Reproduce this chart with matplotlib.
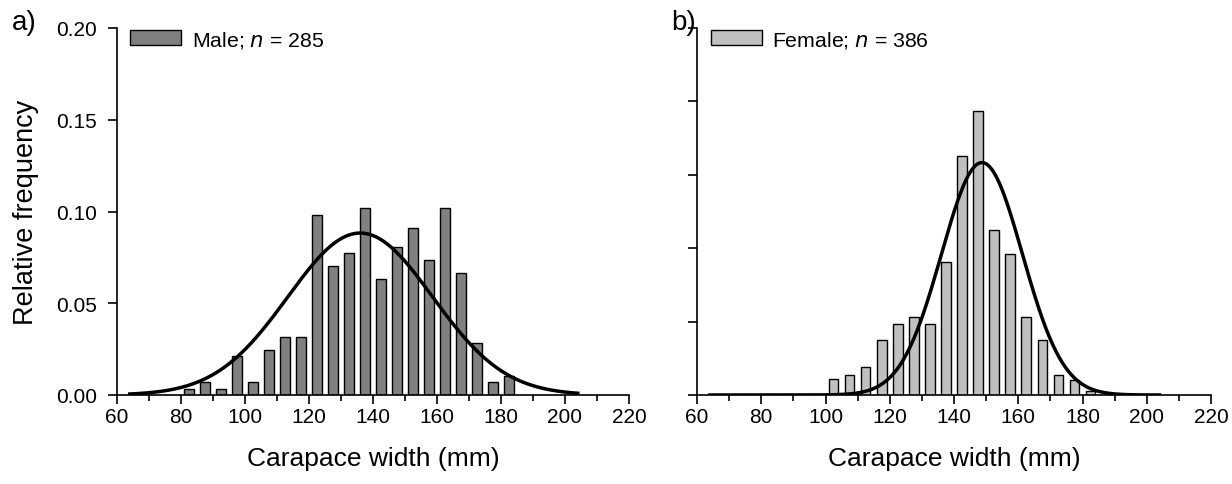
import numpy as np
import matplotlib
matplotlib.use('Agg')
import matplotlib.pyplot as plt

plt.rcParams['font.family'] = ['Liberation Sans', 'DejaVu Sans']

# Dane (srodki klas 5 mm, czestosc wzgledna).
male_bins = [82.5, 87.5, 92.5, 97.5, 102.5, 107.5, 112.5, 117.5, 122.5, 127.5, 132.5,
             137.5, 142.5, 147.5, 152.5, 157.5, 162.5, 167.5, 172.5, 177.5, 182.5]
male_freq = [0.0035, 0.0070, 0.0035, 0.0211, 0.0070, 0.0246, 0.0316, 0.0316, 0.0982, 0.0702, 0.0772,
             0.1018, 0.0632, 0.0807, 0.0912, 0.0737, 0.1018, 0.0667, 0.0281, 0.0070, 0.0105]

female_bins = [102.5, 107.5, 112.5, 117.5, 122.5, 127.5, 132.5, 137.5, 142.5,
               147.5, 152.5, 157.5, 162.5, 167.5, 172.5, 177.5, 182.5]
female_freq = [0.0109, 0.0136, 0.0189, 0.0377, 0.0484, 0.0533, 0.0482, 0.0904, 0.1626,
               0.1935, 0.1124, 0.0958, 0.0533, 0.0375, 0.0136, 0.0104, 0.0030]

# parametry dopasowanego rozkladu normalnego (srednia, odchylenie)
male_fit = (136.0, 22.6)
female_fit = (148.7, 12.6)
bin_width = 5.0
curve_range = (64, 204)

x_ticks = [60, 80, 100, 120, 140, 160, 180, 200, 220]


def normal_curve(mu, sd):
    x = np.linspace(curve_range[0], curve_range[1], 400)
    y = bin_width / (sd * np.sqrt(2 * np.pi)) * np.exp(-(x - mu) ** 2 / (2 * sd ** 2))
    return x, y


def style_axis(ax, ymax, ystep):
    for s in ['top', 'right']:
        ax.spines[s].set_visible(False)
    for s in ['left', 'bottom']:
        ax.spines[s].set_linewidth(1.2)
    ax.set_xlim(60, 220)
    ax.set_ylim(0, ymax)
    ax.set_xticks(x_ticks)
    ax.set_xticks(np.arange(70, 220, 20), minor=True)
    ax.set_yticks(np.arange(0, ymax + 1e-9, ystep))
    ax.tick_params(axis='both', which='major', direction='out', length=6.5, width=1.2,
                   labelsize=15, pad=2.5)
    ax.tick_params(axis='x', which='minor', direction='out', length=4, width=1.2)
    ax.tick_params(axis='y', which='major', pad=8)
    ax.set_xlabel('Carapace width (mm)', fontsize=19, labelpad=14)


fig = plt.figure(figsize=(12.32, 4.85), dpi=100)
ax1 = fig.add_axes([117 / 1232, 89 / 485, 512 / 1232, 367 / 485])
ax2 = fig.add_axes([697 / 1232, 89 / 485, 514 / 1232, 367 / 485])

# a) samce
ax1.bar(male_bins, male_freq, width=3.0, color='#808080', edgecolor='black', linewidth=1.0,
        label='Male; $n$ = 285', zorder=2)
cx, cy = normal_curve(*male_fit)
ax1.plot(cx, cy, color='black', linewidth=2.5, zorder=3)
style_axis(ax1, 0.20, 0.05)
ax1.set_yticklabels(['0.00', '0.05', '0.10', '0.15', '0.20'])
ax1.set_ylabel('Relative frequency', fontsize=19.5, labelpad=12)

# b) samice
ax2.bar(female_bins, female_freq, width=3.0, color='#c0c0c0', edgecolor='black', linewidth=1.0,
        label='Female; $n$ = 386', zorder=2)
cx, cy = normal_curve(*female_fit)
ax2.plot(cx, cy, color='black', linewidth=2.5, zorder=3)
style_axis(ax2, 0.25, 0.05)
ax2.set_yticklabels([])

for ax in (ax1, ax2):
    ax.legend(loc='upper left', bbox_to_anchor=(0.018, 1.01), frameon=False, fontsize=15.3,
              handlelength=2.4, handleheight=0.7, handletextpad=0.5, borderaxespad=0,
              borderpad=0.2)

fig.text(0.010, 0.953, 'a)', fontsize=20, va='center', ha='left')
fig.text(0.545, 0.953, 'b)', fontsize=20, va='center', ha='left')

plt.savefig('out.png', dpi=100)
